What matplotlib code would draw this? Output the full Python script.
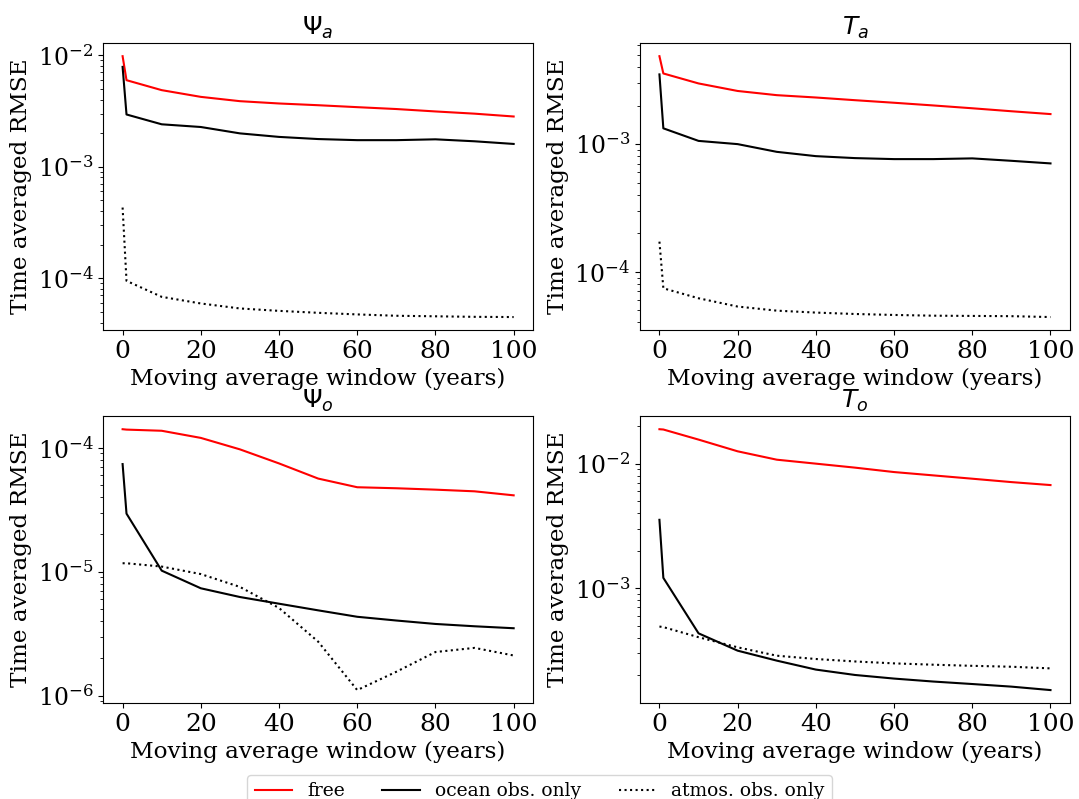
import matplotlib
matplotlib.use("Agg")
import matplotlib.pyplot as plt

plt.rcParams['font.family'] = 'DejaVu Serif'
plt.rcParams['font.size'] = 16.7

windows = [0, 1, 10, 20, 30, 40, 50, 60, 70, 80, 90, 100]

# Psi_a
psi_a_free = [9.8e-3, 5.97e-3, 4.86e-3, 4.23e-3, 3.87e-3, 3.69e-3, 3.56e-3, 3.42e-3, 3.29e-3, 3.13e-3, 2.99e-3, 2.82e-3]
psi_a_ocean = [7.86e-3, 2.94e-3, 2.40e-3, 2.27e-3, 1.99e-3, 1.85e-3, 1.77e-3, 1.73e-3, 1.73e-3, 1.76e-3, 1.69e-3, 1.60e-3]
psi_a_atmos = [4.30e-4, 9.46e-5, 6.8e-5, 5.93e-5, 5.35e-5, 5.09e-5, 4.89e-5, 4.73e-5, 4.6e-5, 4.55e-5, 4.5e-5, 4.48e-5]

# T_a
t_a_free = [4.89e-3, 3.58e-3, 2.99e-3, 2.61e-3, 2.42e-3, 2.32e-3, 2.21e-3, 2.11e-3, 2.01e-3, 1.91e-3, 1.81e-3, 1.72e-3]
t_a_ocean = [3.52e-3, 1.33e-3, 1.06e-3, 1.00e-3, 8.7e-4, 8.05e-4, 7.77e-4, 7.63e-4, 7.63e-4, 7.73e-4, 7.4e-4, 7.06e-4]
t_a_atmos = [1.72e-4, 7.41e-5, 6.19e-5, 5.33e-5, 4.95e-5, 4.78e-5, 4.66e-5, 4.58e-5, 4.52e-5, 4.5e-5, 4.48e-5, 4.41e-5]

# Psi_o
psi_o_free = [1.41e-4, 1.40e-4, 1.37e-4, 1.20e-4, 9.7e-5, 7.47e-5, 5.64e-5, 4.8e-5, 4.71e-5, 4.59e-5, 4.45e-5, 4.13e-5]
psi_o_ocean = [7.38e-5, 2.94e-5, 1.02e-5, 7.35e-6, 6.25e-6, 5.52e-6, 4.88e-6, 4.33e-6, 4.04e-6, 3.79e-6, 3.63e-6, 3.5e-6]
psi_o_atmos = [1.17e-5, 1.17e-5, 1.10e-5, 9.57e-6, 7.54e-6, 5.1e-6, 2.73e-6, 1.11e-6, 1.56e-6, 2.25e-6, 2.43e-6, 2.11e-6]

# T_o
t_o_free = [1.89e-2, 1.88e-2, 1.56e-2, 1.256e-2, 1.076e-2, 1.00e-2, 9.29e-3, 8.56e-3, 8.05e-3, 7.57e-3, 7.11e-3, 6.73e-3]
t_o_ocean = [3.54e-3, 1.21e-3, 4.34e-4, 3.15e-4, 2.62e-4, 2.22e-4, 2.01e-4, 1.88e-4, 1.78e-4, 1.70e-4, 1.62e-4, 1.52e-4]
t_o_atmos = [4.92e-4, 4.87e-4, 4.04e-4, 3.35e-4, 2.87e-4, 2.70e-4, 2.58e-4, 2.49e-4, 2.43e-4, 2.38e-4, 2.34e-4, 2.27e-4]

titles = [r'$\Psi_a$', r'$T_a$', r'$\Psi_o$', r'$T_o$']
series = [
    (psi_a_free, psi_a_ocean, psi_a_atmos),
    (t_a_free, t_a_ocean, t_a_atmos),
    (psi_o_free, psi_o_ocean, psi_o_atmos),
    (t_o_free, t_o_ocean, t_o_atmos),
]

fig, axes = plt.subplots(2, 2, figsize=(10.79, 7.99), dpi=100)
plt.subplots_adjust(left=0.0955, right=0.9917, top=0.946, bottom=0.120,
                    wspace=0.248, hspace=0.30)

for ax, title, (free, ocean, atmos) in zip(axes.flat, titles, series):
    ax.plot(windows, free, color='red', label='free')
    ax.plot(windows, ocean, color='black', label='ocean obs. only')
    ax.plot(windows, atmos, color='black', linestyle=':', label='atmos. obs. only')
    ax.set_yscale('log')
    ax.set_title(title, fontsize=18)
    ax.set_xlabel('Moving average window (years)')
    ax.set_ylabel('Time averaged RMSE')
    ax.set_xticks([0, 20, 40, 60, 80, 100])
    ax.tick_params(axis='x', which='major', labelsize=18)
    ax.tick_params(axis='y', which='major', labelsize=17)

handles, labels = axes[0, 0].get_legend_handles_labels()
fig.legend(handles, labels, loc='upper center', bbox_to_anchor=(0.5, 0.035),
           ncol=3, fontsize=13.5, borderaxespad=0.2)

plt.savefig('out.png', dpi=100)
